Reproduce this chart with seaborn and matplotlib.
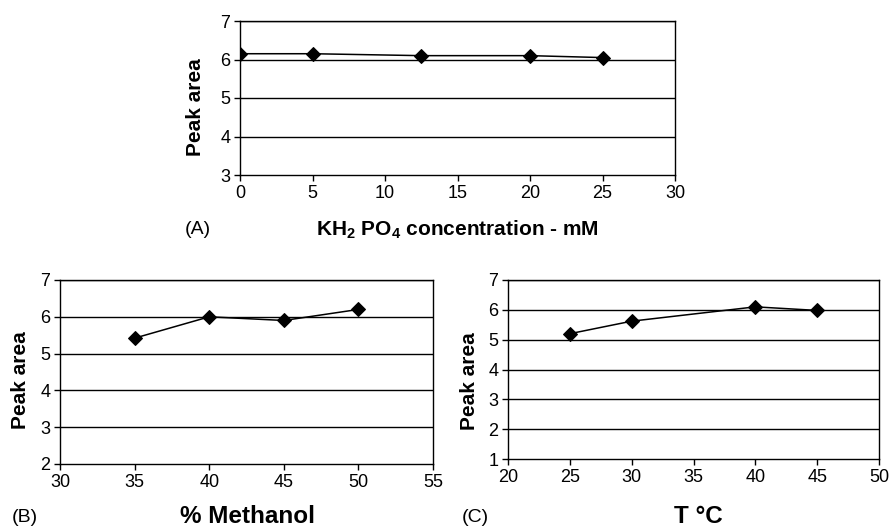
import matplotlib
matplotlib.use("Agg")
import matplotlib.pyplot as plt
import seaborn as sns
import pandas as pd

# Data
kh2po4_mM = [0, 5, 12.5, 20, 25]
peak_a = [6.15, 6.15, 6.10, 6.10, 6.05]

methanol_pct = [35, 40, 45, 50]
peak_b = [5.42, 6.00, 5.90, 6.20]

temp_c = [25, 30, 40, 45]
peak_c = [5.20, 5.62, 6.10, 5.98]

sns.set_theme(style="white")
plt.rcParams["font.family"] = ["Liberation Sans", "DejaVu Sans"]
plt.rcParams["mathtext.fontset"] = "custom"
plt.rcParams["mathtext.rm"] = "Liberation Sans"
plt.rcParams["mathtext.bf"] = "Liberation Sans:bold"
plt.rcParams["text.color"] = "black"
plt.rcParams["axes.labelcolor"] = "black"

W, H = 891, 530
fig = plt.figure(figsize=(W / 100, H / 100), dpi=100)


def px_axes(l, t, r, b):
    return fig.add_axes([l / W, (H - b) / H, (r - l) / W, (b - t) / H])


def style(ax, x, y, xlim, xticks, ylim, yticks, xlabel, xlab_size, xlab_pos, ylab_pos,
          letter, letter_px):
    df = pd.DataFrame({"x": x, "y": y})
    sns.lineplot(data=df, x="x", y="y", ax=ax, color="black", linewidth=1.1,
                 marker="D", markersize=7, markeredgecolor="black",
                 markerfacecolor="black")
    ax.set_xlim(*xlim)
    ax.set_ylim(*ylim)
    ax.set_xticks(xticks)
    ax.set_yticks(yticks)
    ax.set_xticklabels([str(t) for t in xticks])
    ax.set_yticklabels([str(t) for t in yticks])
    for yy in yticks[1:]:
        ax.axhline(yy, color="black", linewidth=1.0, zorder=0)
    for s in ax.spines.values():
        s.set_color("black")
        s.set_linewidth(1.0)
        s.set_visible(True)
    ax.tick_params(axis="both", direction="out", length=4, width=1,
                   colors="black", labelcolor="black", labelsize=13, pad=3,
                   bottom=True, left=True)
    ax.set_xlabel(xlabel, fontsize=xlab_size, fontweight="bold", va="center", color="black")
    ax.xaxis.set_label_coords(*xlab_pos)
    ax.set_ylabel("Peak area", fontsize=15, fontweight="bold", va="center", color="black")
    ax.yaxis.set_label_coords(*ylab_pos)
    fig.text(letter_px[0] / W, 1 - letter_px[1] / H, letter, fontsize=14,
             ha="center", va="center", color="black")


axA = px_axes(240, 21, 675, 175)
style(axA, kh2po4_mM, peak_a, (0, 30), [0, 5, 10, 15, 20, 25, 30], (3, 7), [3, 4, 5, 6, 7],
      r"KH$_\mathbf{2}$ PO$_\mathbf{4}$ concentration - mM", 15, (0.499, -0.357),
      (-0.103, 0.438), "(A)", (198, 230))

axB = px_axes(60, 280, 433, 464)
style(axB, methanol_pct, peak_b, (30, 55), [30, 35, 40, 45, 50, 55], (2, 7), [2, 3, 4, 5, 6, 7],
      "% Methanol", 17.5, (0.504, -0.288), (-0.107, 0.457), "(B)", (25, 517))

axC = px_axes(508, 280, 879, 459)
style(axC, temp_c, peak_c, (20, 50), [20, 25, 30, 35, 40, 45, 50], (1, 7), [1, 2, 3, 4, 5, 6, 7],
      "T °C", 17.5, (0.512, -0.324), (-0.105, 0.436), "(C)", (475, 517))

fig.savefig("out.png", dpi=100, facecolor="white")
